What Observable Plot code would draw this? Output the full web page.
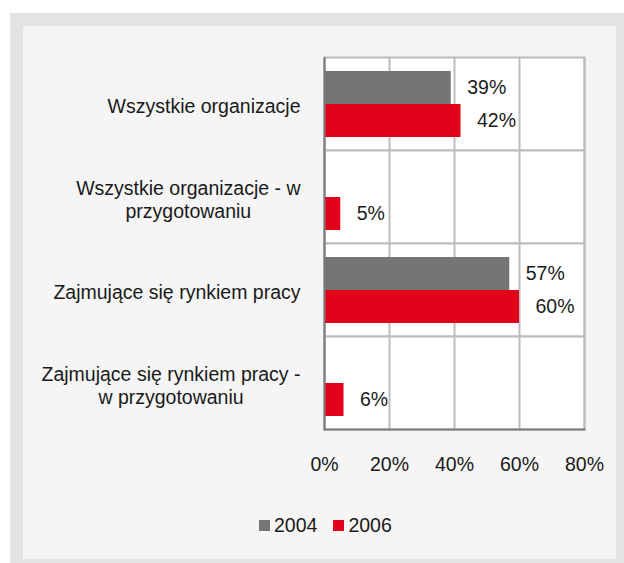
<!DOCTYPE html>
<html>
<head>
<meta charset="utf-8">
<script src="https://cdn.jsdelivr.net/npm/d3@7"></script>
<script src="https://cdn.jsdelivr.net/npm/@observablehq/plot@0.6"></script>
<style>
  html, body { margin: 0; padding: 0; background: #ffffff; }
  #page { position: relative; width: 624px; height: 563px; overflow: hidden; background: #ffffff;
          font-family: "Liberation Sans", Arial, sans-serif; color: #1a1a1a; }
  #outer { position: absolute; left: 10px; top: 13px; width: 614px; height: 550px; background: #e3e3e3; }
  #inner { position: absolute; left: 23px; top: 26px; width: 593px; height: 533px; background: #f4f5f4; }
  #legend { position: absolute; left: 259px; top: 511px; display: flex; align-items: center; font-size: 19.5px; line-height: 28px; }
  .item { display: flex; align-items: center; margin-right: 16px; }
  .sw { width: 11px; height: 11px; margin-right: 4px; }
</style>
</head>
<body>
<div id="page">
  <div id="outer"></div>
  <div id="inner"></div>
  <div id="chart"></div>
  <div id="legend"></div>
</div>
<script>
const categories = [
  "Wszystkie organizacje",
  "Wszystkie organizacje - w przygotowaniu",
  "Zajmujące się rynkiem pracy",
  "Zajmujące się rynkiem pracy - w przygotowaniu"
];
const categoryLabels = [
  "Wszystkie organizacje",
  "Wszystkie organizacje - w\nprzygotowaniu",
  "Zajmujące się rynkiem pracy",
  "Zajmujące się rynkiem pracy -\nw przygotowaniu"
];
const years = ["2004", "2006"];
const values2004 = [39, null, 57, null];
const values2006 = [42, 5, 60, 6];
const xTicks = [0, 20, 40, 60, 80];
const yearColors = ["#757575", "#e2001a"];

const data = [];
categories.forEach((c, i) => {
  if (values2004[i] != null) data.push({category: c, year: years[0], value: values2004[i]});
  if (values2006[i] != null) data.push({category: c, year: years[1], value: values2006[i]});
});

const fontFamily = "'Liberation Sans', Arial, sans-serif";

const chart = Plot.plot({
  width: 624,
  height: 563,
  marginLeft: 324,
  marginRight: 40,
  marginTop: 56,
  marginBottom: 134,
  style: {background: "transparent", fontFamily, fontSize: "19.5px", color: "#1a1a1a",
          position: "absolute", left: "0px", top: "0px", overflow: "visible"},
  x: {domain: [0, 80]},
  y: {domain: years, paddingInner: 0, paddingOuter: 0.37, axis: null},
  fy: {domain: categories, padding: 0},
  color: {domain: years, range: yearColors},
  marks: [
    Plot.frame({fill: "white", stroke: "#bcbcbc", strokeWidth: 2}),
    Plot.ruleX(xTicks, {stroke: "#bcbcbc", strokeWidth: 2}),
    Plot.barX(data, {x: "value", y: "year", fy: "category", fill: "year"}),
    Plot.text(data, {x: "value", y: "year", fy: "category", text: d => d.value + "%",
                     textAnchor: "start", dx: 16, fontSize: 19.5, fill: "#1a1a1a"}),
    Plot.ruleX([0], {stroke: "#7a7a7a", strokeWidth: 2}),
    Plot.frame({anchor: "bottom", facetAnchor: "bottom", stroke: "#7a7a7a", strokeWidth: 2}),
    Plot.axisX({ticks: xTicks, tickFormat: d => d + "%", tickSize: 0, tickPadding: 28,
                label: null, fontSize: 19.5}),
    Plot.axisFy({anchor: "left", tickSize: 0, tickPadding: 24, label: null, fontSize: 19.5,
                 lineHeight: 1.18, dy: 2,
                 tickFormat: d => categoryLabels[categories.indexOf(d)]})
  ]
});
document.getElementById("chart").appendChild(chart);

// center multi-line category labels (as in the original), keeping the block right-aligned
chart.querySelectorAll("g[aria-label*='fy-axis'] text").forEach(t => {
  const spans = t.querySelectorAll("tspan");
  if (spans.length > 1) {
    const maxW = Math.max(...Array.from(spans, s => s.getComputedTextLength()));
    t.setAttribute("text-anchor", "middle");
    spans.forEach(s => s.setAttribute("x", -maxW / 2));
  }
});

// legend
const legend = document.getElementById("legend");
years.forEach((y, i) => {
  const item = document.createElement("div");
  item.className = "item";
  const sw = document.createElement("div");
  sw.className = "sw";
  sw.style.background = yearColors[i];
  const label = document.createElement("span");
  label.textContent = y;
  item.appendChild(sw);
  item.appendChild(label);
  legend.appendChild(item);
});
</script>
</body>
</html>
